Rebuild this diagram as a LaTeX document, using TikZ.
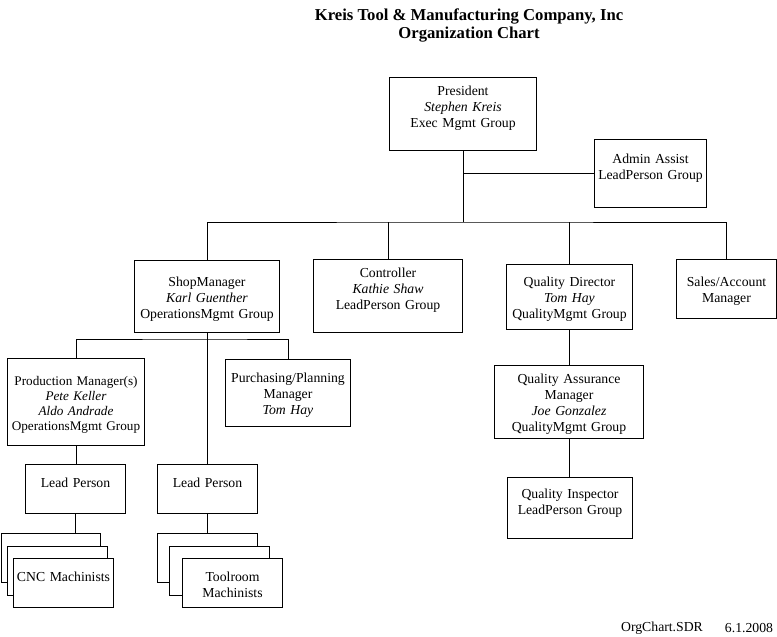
\documentclass[tikz,border=0pt]{standalone}
\usepackage{fontspec}
\setmainfont{Liberation Serif}
\usepackage{tikz}
\usetikzlibrary{positioning,calc}
\newdimen\pix
\pix=0.75pt
\tikzset{
  unit/.style n args={3}{draw,fill=white,line width=0.75pt,anchor=north west,inner sep=0pt,
                align=center,text width=#1\pix,text height=#2\pix,text depth=#3\pix,
                font=\fontsize{10.3}{12}\selectfont},
  link/.style={line width=0.75pt},
  heading/.style={align=center,font=\fontsize{12.5}{13.5}\selectfont\bfseries},
  note/.style={font=\fontsize{10.3}{12}\selectfont}
}
\begin{document}
\begin{tikzpicture}[x=0.75pt,y=-0.75pt]
  \useasboundingbox (0,0) rectangle (777,636);
  \node[heading] (title) at (469,25) {Kreis Tool \& Manufacturing Company, Inc\\Organization Chart};

  \node[unit={147}{17.5}{55.5}] (pres) at (389,77) {President\\\textit{Stephen Kreis}\\Exec Mgmt Group};
  \node[unit={112}{23.5}{44.5}] (admin) at (594,139) {Admin Assist\\LeadPerson Group};
  \node[unit={145}{25.5}{46.5}] (shop) at (134,260) {ShopManager\\\textit{Karl Guenther}\\OperationsMgmt Group};
  \node[unit={149}{17.5}{55.5}] (ctrl) at (313,259) {Controller\\\textit{Kathie Shaw}\\LeadPerson Group};
  \node[unit={126}{21.5}{43.5}] (qd) at (506,264) {Quality Director\\\textit{Tom Hay}\\QualityMgmt Group};
  \node[unit={100}{26.5}{32.5}] (sales) at (676,259) {Sales/Account\\Manager};
  \node[unit={137}{27}{60},font=\fontsize{9.9}{11.25}\selectfont] (prod) at (7,358) {Production Manager(s)\\\textit{Pete Keller}\\\textit{Aldo Andrade}\\OperationsMgmt Group};
  \node[unit={125}{22.5}{44.5}] (purch) at (225,359) {Purchasing/Planning\\Manager\\\textit{Tom Hay}};
  \node[unit={149}{17.5}{55.5}] (qam) at (494,365) {Quality Assurance\\Manager\\\textit{Joe Gonzalez}\\QualityMgmt Group};
  \node[unit={125}{20.5}{40.5}] (qi) at (507,477) {Quality Inspector\\LeadPerson Group};
  \node[unit={100}{22.5}{26.5}] (leadA) at (25,464) {Lead Person};
  \node[unit={100}{22.5}{26.5}] (leadB) at (157,464) {Lead Person};

  % stacked machinist groups
  \node[unit={99}{22.5}{26.5}] (cncA) at (0.5,533) {};
  \node[unit={100}{22.5}{26.5}] (cncB) at (7,546) {};
  \node[unit={100}{22.5}{26.5}] (cnc) at (13,558) {CNC Machinists};
  \node[unit={100}{22.5}{26.5}] (toolA) at (157,533) {};
  \node[unit={100}{22.5}{26.5}] (toolB) at (169,546) {};
  \node[unit={100}{22.5}{26.5}] (tool) at (182,558) {Toolroom\\Machinists};

  \coordinate (bus) at (463,222);
  \coordinate (sbus) at (207,339);
  \draw[link] (pres.south) -- (bus);
  \draw[link] (admin.west) -- (admin.west -| pres.south);
  \draw[link] (shop.north) |- (bus) -| (sales.north);
  \draw[link] (ctrl.north) -- (ctrl.north |- bus);
  \draw[link] (qd.north) -- (qd.north |- bus);
  \draw[link] (prod.north) |- (sbus) -| (purch.north);
  \draw[link] (shop.south) -- (shop.south |- leadB.north);
  \draw[link] (prod.south) -- (prod.south |- leadA.north);
  \draw[link] (leadA.south) -- (leadA.south |- cncA.north);
  \draw[link] (leadB.south) -- (leadB.south |- toolA.north);
  \draw[link] (qd.south) -- (qd.south |- qam.north);
  \draw[link] (qam.south) -- (qam.south |- qi.north);

  \node[note] (file) at (662,628) {OrgChart.SDR};
  \node[note] (date) at (749,628) {6.1.2008};
\end{tikzpicture}
\end{document}
